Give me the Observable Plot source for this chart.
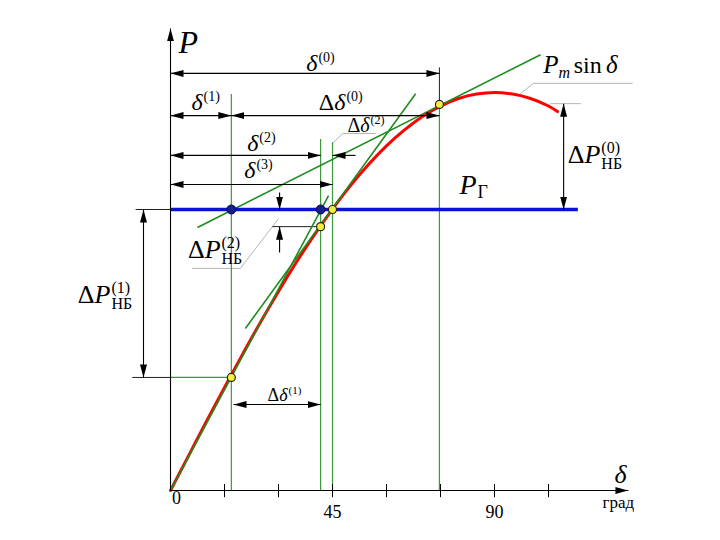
<!DOCTYPE html>
<html><head><meta charset="utf-8">
<script src="https://cdn.jsdelivr.net/npm/d3@7"></script>
<script src="https://cdn.jsdelivr.net/npm/@observablehq/plot@0.6"></script>
<style>body{margin:0;background:#fff} svg{display:block}</style>
</head><body><div id="chart"></div>
<script>
// ---------- data (δ in degrees, P in units of Pm) ----------
const curveDeg = [0,5,10,15,20,25,30,35,40,45,50,55,60,65,70,75,80,85,90,95,100,105,107.5];
const curveP   = [0,0.087,0.174,0.259,0.342,0.423,0.5,0.574,0.643,0.707,0.766,0.819,0.866,0.906,0.94,0.966,0.985,0.996,1.0,0.996,0.985,0.966,0.952];
const PG = 0.706;                       // P_Г level
const PGend = 113.3;                    // end of the P_Г line
const iterDeg = [74.7, 16.9, 41.7, 45.0];   // δ(0), δ(1), δ(2), δ(3)
const iterP   = [0.970, 0.284, 0.663, 0.706];
const blueDotDeg = [16.9, 41.7];
const tickDeg = [15,30,45,60,75,90,105];
const tickLabelText = ["45","90"];
const tickLabelDeg = [45,90];
// tangent segments
const tangentFrom = [[7.5,0.661],[0,0],[20.8,0.407]];
const tangentTo   = [[102.8,1.095],[43.9,0.741],[68.1,0.997]];
// vertical guides: δ and top
const guideDeg = [16.9, 41.7, 45.0, 74.7];
const guideTop = [0.995, 0.882, 0.874, 0.970];
// double-headed dimension arrows
const dimFrom = [[0,1.048],[0,0.942],[16.9,0.942],[0,0.842],[0,0.769],[17.5,0.216],[-7.5,0.706],[109.2,0.972]];
const dimTo   = [[74.7,1.048],[16.9,0.942],[74.7,0.942],[41.7,0.842],[45,0.769],[41.7,0.216],[-7.5,0.284],[109.2,0.706]];
// single-headed arrows (including axes)
const arrFrom = [[51.4,0.842],[30.3,0.749],[30.3,0.598],[0,0],[0,0]];
const arrTo   = [[45,0.842],[30.3,0.706],[30.3,0.663],[127.2,0],[0,1.161]];
// black extension lines
const extFrom = [[-9.7,0.706],[-10.6,0.284],[28.3,0.663],[74.7,0.970]];
const extTo   = [[0,0.706],[0,0.284],[41.7,0.663],[74.7,1.063]];
// green extension line
const gExtFrom = [[0,0.284]];
const gExtTo = [[16.9,0.284]];
// grey leader polylines
const leaders = [
  [[97.2,0.997],[100.8,1.023],[128.3,1.023]],
  [[105.6,0.972],[113.9,0.972]],
  [[6.1,0.558],[19.4,0.558],[30.0,0.683]],
  [[45.0,0.872],[47.8,0.897],[56.9,0.897]]
];
// rich labels: main text ends at (x,y) baseline; sup/sub start there
const labelMain = ["δ","δ","Δδ","Δδ","δ","δ","Δδ","ΔP","ΔP","ΔP","P"];
const labelSup  = ["(0)","(1)","(0)","(2)","(2)","(3)","(1)","(1)","(2)","(0)",""];
const labelSub  = ["","","","","","","","НБ","НБ","НБ","Г"];
const labelDeg  = [40.8, 8.9, 48.6, 55.3, 24.4, 23.6, 32.5, -16.7, 13.9, 119.4, 85.0];
const labelP    = [1.055, 0.955, 0.955, 0.902, 0.854, 0.786, 0.224, 0.470, 0.585, 0.822, 0.746];
const labelSize = [24, 24, 24, 20, 24, 24, 18, 26, 26, 26, 28];

// ---------- build tables ----------
const curve = curveDeg.map((d,i)=>({d, p: curveP[i]}));
const iterPts = iterDeg.map((d,i)=>({d, p: iterP[i]}));
const blueDots = blueDotDeg.map(d=>({d, p: PG}));
const seg = (A,B)=>A.map((a,i)=>({x1:a[0], y1:a[1], x2:B[i][0], y2:B[i][1]}));
const tangents = seg(tangentFrom, tangentTo);
const dims = seg(dimFrom, dimTo);
const arrs = seg(arrFrom, arrTo);
const exts = seg(extFrom, extTo);
const gExts = seg(gExtFrom, gExtTo);
const guides = guideDeg.map((d,i)=>({d, top: guideTop[i]}));
const leaderPts = leaders.flatMap((L,k)=>L.map(([d,p])=>({k, d, p})));
const labels = labelMain.map((t,i)=>({t, sup: labelSup[i], sub: labelSub[i], d: labelDeg[i], p: labelP[i], s: labelSize[i]}));
const tickLabels = tickLabelText.map((t,i)=>({t, d: tickLabelDeg[i]}));

const SERIF = "'Liberation Serif', 'Times New Roman', serif";
const GREEN = "#1e8c1e";

const labelMarks = labels.flatMap(l => {
  const s = l.s, ss = Math.round(s*0.6);
  const ms = [Plot.text([l], {x:"d", y:"p", text:"t", textAnchor:"end", lineAnchor:"bottom", fontSize:s, fontStyle:"italic", fontFamily:SERIF, fill:"black"})];
  if (l.sup) ms.push(Plot.text([l], {x:"d", y:"p", text:"sup", textAnchor:"start", lineAnchor:"bottom", fontSize:ss, dy:-Math.round(s*0.38), dx:1, fontFamily:SERIF, fill:"black"}));
  if (l.sub) ms.push(Plot.text([l], {x:"d", y:"p", text:"sub", textAnchor:"start", lineAnchor:"bottom", fontSize: l.sub==="Г" ? 18 : ss, dy: l.sub==="Г" ? 4 : Math.round(s*0.24), dx:1, fontFamily:SERIF, fill:"black"}));
  return ms;
});

const svg = Plot.plot({
  width: 720, height: 540, margin: 0,
  x: {domain: [-170/3.6, 550/3.6], axis: null},
  y: {domain: [-50/398, 490/398], axis: null},
  style: {fontFamily: SERIF, background: "white"},
  marks: [
    Plot.line(leaderPts, {x:"d", y:"p", z:"k", stroke:"#b5b5b5", strokeWidth:1}),
    Plot.link(exts, {x1:"x1", y1:"y1", x2:"x2", y2:"y2", stroke:"#222", strokeWidth:1}),
    Plot.ruleX(guides, {x:"d", y1:0, y2:"top", stroke:"#3a9a3a", strokeWidth:1.2}),
    Plot.link(gExts, {x1:"x1", y1:"y1", x2:"x2", y2:"y2", stroke:"#3a9a3a", strokeWidth:1.2}),
    Plot.line(curve, {x:"d", y:"p", stroke:"#ff0000", strokeWidth:3, curve:"catmull-rom"}),
    Plot.link(tangents, {x1:"x1", y1:"y1", x2:"x2", y2:"y2", stroke:GREEN, strokeWidth:1.6}),
    Plot.ruleY([PG], {y: d=>d, x1:0, x2:PGend, stroke:"#0a14d0", strokeWidth:3.5}),
    Plot.ruleX(tickDeg, {x: d=>d, y1:-0.018, y2:0.015, stroke:"black", strokeWidth:1}),
    Plot.link(arrs, {x1:"x1", y1:"y1", x2:"x2", y2:"y2", stroke:"black", strokeWidth:1.1, markerEnd:"arrow"}),
    Plot.link(dims, {x1:"x1", y1:"y1", x2:"x2", y2:"y2", stroke:"black", strokeWidth:1.1, markerStart:"arrow", markerEnd:"arrow"}),
    Plot.dot(blueDots, {x:"d", y:"p", r:4.5, fill:"#141e8c", stroke:"#0a0a50", strokeWidth:1}),
    Plot.dot(iterPts, {x:"d", y:"p", r:4, fill:"#f4ee3c", stroke:"#222", strokeWidth:1.2}),
    // axis labels and ticks
    Plot.text(["P"], {x: 2.2, y: 1.098, text: d=>d, textAnchor:"start", lineAnchor:"bottom", fontSize:32, fontStyle:"italic", fontFamily:SERIF, fill:"black"}),
    Plot.text(["δ"], {x: 125, y: 0.020, text: d=>d, textAnchor:"middle", lineAnchor:"bottom", fontSize:26, fontStyle:"italic", fontFamily:SERIF, fill:"black"}),
    Plot.text(["град"], {x: 120, y: -0.045, text: d=>d, textAnchor:"start", lineAnchor:"bottom", fontSize:17, fontFamily:SERIF, fill:"black"}),
    Plot.text(["0"], {x: 1.7, y: -0.035, text: d=>d, textAnchor:"middle", lineAnchor:"bottom", fontSize:18, fontFamily:SERIF, fill:"black"}),
    Plot.text(tickLabels, {x:"d", y: -0.070, text:"t", textAnchor:"middle", lineAnchor:"bottom", fontSize:18, fontFamily:SERIF, fill:"black"}),
    // P_m sin δ
    Plot.text(["P"], {x: 107.8, y: 1.048, text: d=>d, textAnchor:"end", lineAnchor:"bottom", fontSize:25, fontStyle:"italic", fontFamily:SERIF, fill:"black"}),
    Plot.text(["m"], {x: 107.8, y: 1.048, text: d=>d, textAnchor:"start", lineAnchor:"bottom", dy:5, dx:0, fontSize:16, fontStyle:"italic", fontFamily:SERIF, fill:"black"}),
    Plot.text(["sin"], {x: 112.0, y: 1.048, text: d=>d, textAnchor:"start", lineAnchor:"bottom", fontSize:24, fontFamily:SERIF, fill:"black"}),
    Plot.text(["δ"], {x: 121.0, y: 1.048, text: d=>d, textAnchor:"start", lineAnchor:"bottom", fontSize:25, fontStyle:"italic", fontFamily:SERIF, fill:"black"}),
    ...labelMarks
  ]
});

// filled arrowheads
svg.querySelectorAll("marker").forEach(m => {
  const color = m.getAttribute("stroke") || "black";
  m.setAttribute("viewBox", "-13 -4 13 8");
  m.setAttribute("markerWidth", 13);
  m.setAttribute("markerHeight", 8);
  m.setAttribute("markerUnits", "userSpaceOnUse");
  m.setAttribute("orient", "auto-start-reverse");
  m.setAttribute("fill", color);
  m.setAttribute("stroke", "none");
  while (m.firstChild) m.removeChild(m.firstChild);
  const p = document.createElementNS("http://www.w3.org/2000/svg", "path");
  p.setAttribute("d", "M-13,-3.5L0,0L-13,3.5Z");
  m.appendChild(p);
});
// upright Δ
svg.querySelectorAll("text").forEach(t => {
  const s = t.textContent;
  if (s.startsWith("Δ") && s.length > 1) {
    t.textContent = "";
    const a = document.createElementNS("http://www.w3.org/2000/svg", "tspan");
    a.setAttribute("font-style", "normal"); a.textContent = "Δ";
    const b = document.createElementNS("http://www.w3.org/2000/svg", "tspan");
    b.textContent = s.slice(1);
    t.appendChild(a); t.appendChild(b);
  }
});
document.getElementById("chart").appendChild(svg);
</script>
</body></html>
